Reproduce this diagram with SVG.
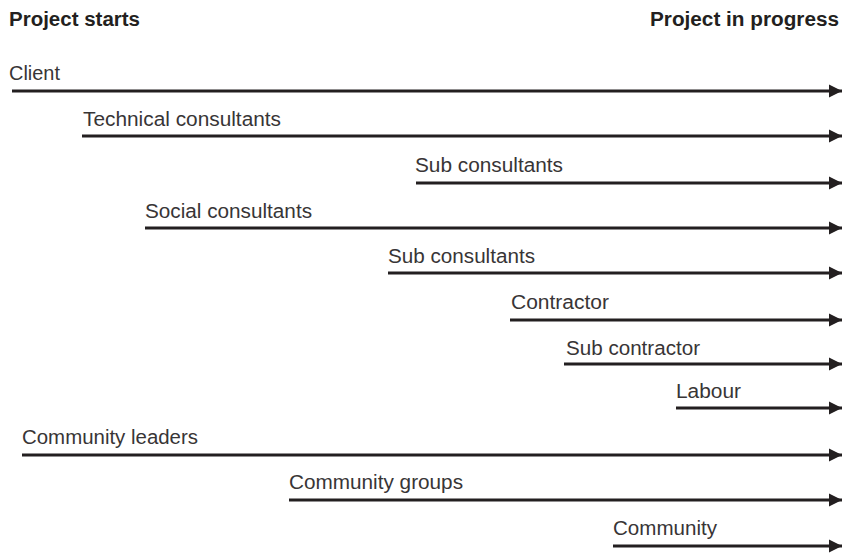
<svg xmlns="http://www.w3.org/2000/svg" width="842" height="554" viewBox="0 0 842 554">
<style>
.h{font-family:"Liberation Sans",Arial,sans-serif;font-size:20px;font-weight:bold;fill:#231f20}
.t{font-family:"Liberation Sans",Arial,sans-serif;font-size:20px;fill:#383536}
.ln{stroke:#231f20;stroke-width:2.8;fill:none}
.ah{fill:#231f20}
</style>
<defs>
<marker id="arr" markerUnits="userSpaceOnUse" markerWidth="14" markerHeight="14" refX="13" refY="6.5" orient="auto" viewBox="0 0 14 13">
<path class="ah" d="M0,0 L13,6.5 L0,13 Z"/>
</marker>
</defs>
<g id="headers">
<text class="h" x="9" y="26" textLength="131" lengthAdjust="spacingAndGlyphs">Project starts</text>
<text class="h" x="650" y="26" textLength="189" lengthAdjust="spacingAndGlyphs">Project in progress</text>
</g>
<g id="labels">
<g id="n-client"><text class="t" x="9" y="80" textLength="51" lengthAdjust="spacingAndGlyphs">Client</text></g>
<g id="n-tech"><text class="t" x="83" y="126" textLength="198" lengthAdjust="spacingAndGlyphs">Technical consultants</text></g>
<g id="n-sub1"><text class="t" x="415" y="172" textLength="148" lengthAdjust="spacingAndGlyphs">Sub consultants</text></g>
<g id="n-social"><text class="t" x="145" y="218" textLength="167" lengthAdjust="spacingAndGlyphs">Social consultants</text></g>
<g id="n-sub2"><text class="t" x="388" y="263" textLength="147" lengthAdjust="spacingAndGlyphs">Sub consultants</text></g>
<g id="n-contractor"><text class="t" x="511" y="309" textLength="98" lengthAdjust="spacingAndGlyphs">Contractor</text></g>
<g id="n-subcontractor"><text class="t" x="566" y="355" textLength="134" lengthAdjust="spacingAndGlyphs">Sub contractor</text></g>
<g id="n-labour"><text class="t" x="676" y="398" textLength="65" lengthAdjust="spacingAndGlyphs">Labour</text></g>
<g id="n-leaders"><text class="t" x="22" y="444" textLength="176" lengthAdjust="spacingAndGlyphs">Community leaders</text></g>
<g id="n-groups"><text class="t" x="289" y="489" textLength="174" lengthAdjust="spacingAndGlyphs">Community groups</text></g>
<g id="n-community"><text class="t" x="613" y="535" textLength="104" lengthAdjust="spacingAndGlyphs">Community</text></g>
</g>
<g id="connectors">
<line class="ln" x1="12" y1="91" x2="842" y2="91" marker-end="url(#arr)"/>
<line class="ln" x1="82" y1="136" x2="842" y2="136" marker-end="url(#arr)"/>
<line class="ln" x1="416" y1="183" x2="842" y2="183" marker-end="url(#arr)"/>
<line class="ln" x1="145" y1="228" x2="842" y2="228" marker-end="url(#arr)"/>
<line class="ln" x1="388" y1="273" x2="842" y2="273" marker-end="url(#arr)"/>
<line class="ln" x1="510" y1="320" x2="842" y2="320" marker-end="url(#arr)"/>
<line class="ln" x1="564" y1="364" x2="842" y2="364" marker-end="url(#arr)"/>
<line class="ln" x1="676" y1="408" x2="842" y2="408" marker-end="url(#arr)"/>
<line class="ln" x1="22" y1="455" x2="842" y2="455" marker-end="url(#arr)"/>
<line class="ln" x1="289" y1="500" x2="842" y2="500" marker-end="url(#arr)"/>
<line class="ln" x1="613" y1="546" x2="842" y2="546" marker-end="url(#arr)"/>
</g>
</svg>
